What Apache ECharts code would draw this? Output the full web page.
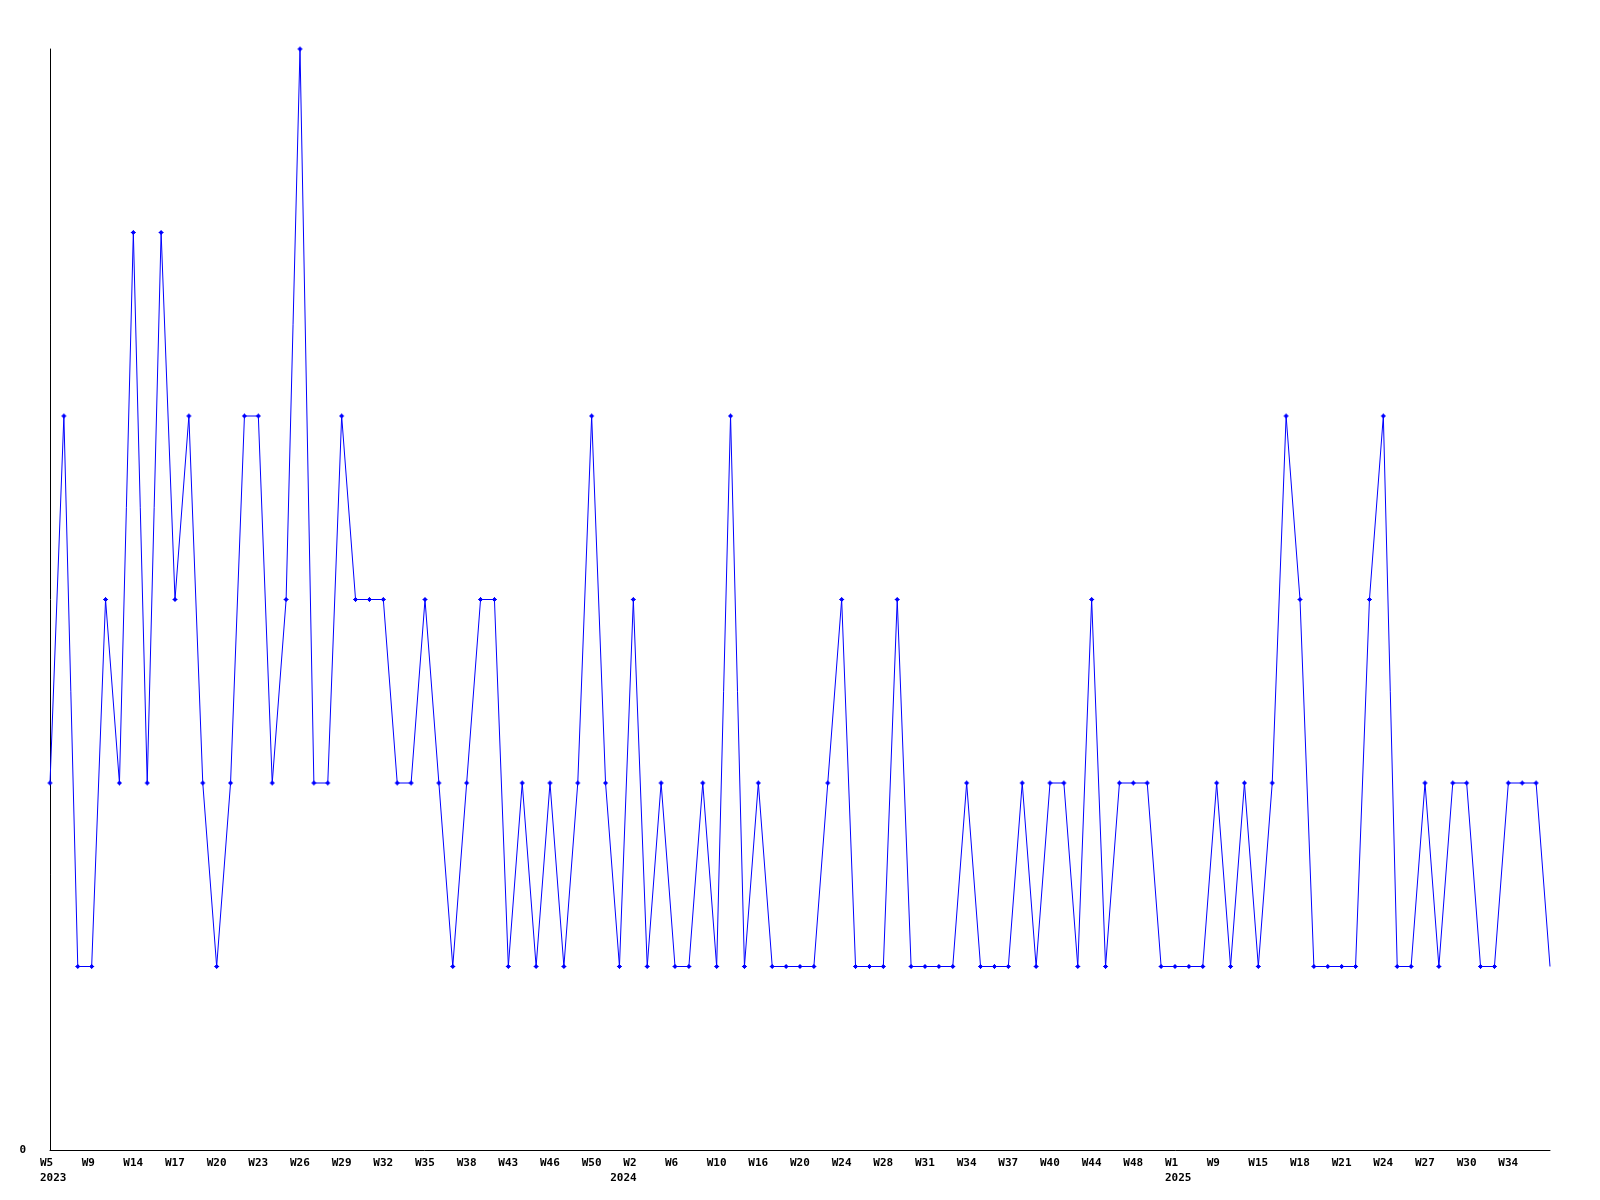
<!DOCTYPE html>
<html>
<head>
<meta charset="utf-8">
<script src="https://cdn.jsdelivr.net/npm/echarts@6/dist/echarts.min.js"></script>
<style>html,body{margin:0;padding:0;background:#fff}#c{width:1600px;height:1200px}</style>
</head>
<body>
<div id="c"></div>
<script>
// ISO-week categories (year, week) for each data point
const years = [
  2023,2023,2023,2023,2023,2023,2023,2023,2023,2023,2023,2023,2023,2023,2023,2023,2023,2023,2023,2023,
  2023,2023,2023,2023,2023,2023,2023,2023,2023,2023,2023,2023,2023,2023,2023,2023,2023,2023,2023,2023,
  2023,2023,2024,2024,2024,2024,2024,2024,2024,2024,2024,2024,2024,2024,2024,2024,2024,2024,2024,2024,
  2024,2024,2024,2024,2024,2024,2024,2024,2024,2024,2024,2024,2024,2024,2024,2024,2024,2024,2024,2024,
  2024,2025,2025,2025,2025,2025,2025,2025,2025,2025,2025,2025,2025,2025,2025,2025,2025,2025,2025,2025,
  2025,2025,2025,2025,2025,2025,2025,2025,2025
];
const weeks = [
  5,6,8,9,11,12,14,15,16,17,18,19,20,21,22,23,24,25,26,27,
  28,29,30,31,32,33,34,35,36,37,38,40,41,43,44,45,46,47,49,50,
  51,52,2,3,5,6,7,9,10,12,14,16,17,19,20,21,23,24,26,27,
  28,29,30,31,32,33,34,35,36,37,38,39,40,41,43,44,45,47,48,49,
  51,1,3,6,9,11,13,15,16,17,18,19,20,21,22,23,24,25,26,27,
  28,29,30,31,33,34,35,36,37
];
const values = [
  2,4,1,1,3,2,5,2,5,3,4,2,1,2,4,4,2,3,6,2,
  2,4,3,3,3,2,2,3,2,1,2,3,3,1,2,1,2,1,2,4,
  2,1,3,1,2,1,1,2,1,4,1,2,1,1,1,1,2,3,1,1,
  1,3,1,1,1,1,2,1,1,1,2,1,2,2,1,3,1,2,2,2,
  1,1,1,1,2,1,2,1,2,4,3,1,1,1,1,3,4,1,1,2,
  1,2,2,1,1,2,2,2,1
];
const yMin = 0, yMax = 6;

const categories = weeks.map((w, i) => years[i] + '-W' + w);
const labelEvery = 3;
// year shown under the first visible label of each year
const yearShownAt = {};
for (let i = 0; i < categories.length; i += labelEvery) {
  if (!(years[i] in yearShownAt)) yearShownAt[years[i]] = i;
}
const yearRightAligned = { 2024: true };

const marker = 'path://M2,0L3,0L3,1L4,1L4,2L5,2L5,3L4,3L4,4L3,4L3,5L2,5L2,4L1,4L1,3L0,3L0,2L1,2L1,1L2,1Z';
const seriesData = values.map((v, i) =>
  i === values.length - 1 ? { value: v, symbol: 'none' } : v);

const font = { fontFamily: 'DejaVu Sans Mono', fontWeight: 'bold', fontSize: 11, color: '#000' };

const chart = echarts.init(document.getElementById('c'), null, { renderer: 'canvas' });
chart.setOption({
  animation: false,
  backgroundColor: '#ffffff',
  grid: { left: 50, right: 50, top: 49, bottom: 50, containLabel: false },
  xAxis: {
    type: 'category',
    data: categories,
    boundaryGap: false,
    axisLine: { show: true, lineStyle: { color: '#000', width: 1 } },
    axisTick: { show: false },
    splitLine: { show: false },
    axisLabel: Object.assign({}, font, {
      interval: labelEvery - 1,
      showMaxLabel: false,
      margin: 6,
      lineHeight: 15,
      align: 'center',
      formatter: function (val, idx) {
        const w = 'W' + weeks[idx];
        if (yearShownAt[years[idx]] === idx) {
          const yr = years[idx];
          return '{w|' + w + '}\n' +
            (yearRightAligned[yr] ? '{yr|' + yr + '\u00a0}' : '{yl|' + yr + '}');
        }
        return '{w|' + w + '}';
      },
      rich: {
        w: Object.assign({}, font, { lineHeight: 15, width: 20, align: 'left' }),
        yl: Object.assign({}, font, { lineHeight: 15, width: 20, align: 'left' }),
        yr: Object.assign({}, font, { lineHeight: 15, width: 20, align: 'right' })
      }
    })
  },
  yAxis: {
    type: 'value',
    min: yMin,
    max: yMax,
    interval: 1,
    axisLine: { show: true, lineStyle: { color: '#000', width: 1 } },
    axisTick: { show: false },
    splitLine: { show: false },
    axisLabel: Object.assign({}, font, {
      margin: 24,
      formatter: v => (v === 0 ? '0' : '')
    })
  },
  series: [{
    type: 'line',
    data: seriesData,
    symbol: marker,
    symbolSize: 5,
    showAllSymbol: true,
    lineStyle: { color: '#0000ff', width: 1 },
    itemStyle: { color: '#0000ff' },
    emphasis: { disabled: true }
  }]
});
</script>
</body>
</html>
